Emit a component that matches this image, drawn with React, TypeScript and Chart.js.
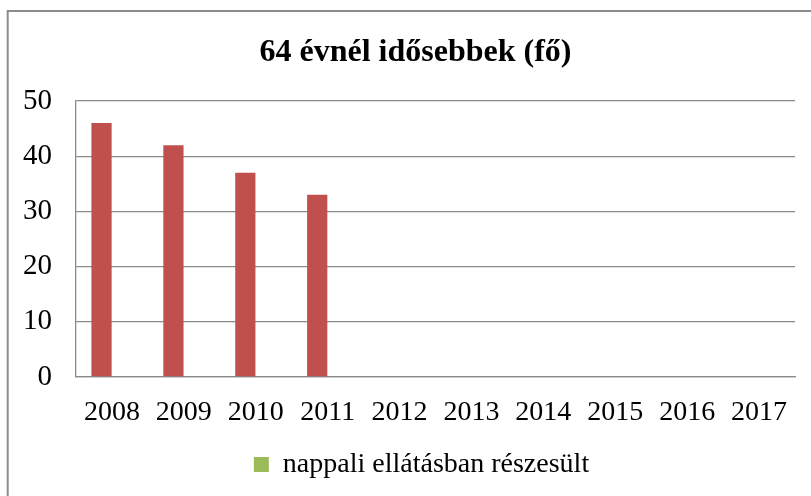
import React, { useEffect, useRef } from "react";
import { Chart, registerables } from "chart.js";

Chart.register(...registerables);

const categories = ["2008", "2009", "2010", "2011", "2012", "2013", "2014", "2015", "2016", "2017"];
const redValues: (number | null)[] = [46, 42, 37, 33, null, null, null, null, null, null];
const greenValues: (number | null)[] = [null, null, null, null, null, null, null, null, null, null];
const titleText = "64 évnél idősebbek (fő)";
const legendLabel = "nappali ellátásban részesült";
const yMin = 0;
const yMax = 50;
const yStep = 10;

const FONT = "'Liberation Serif', 'Times New Roman', serif";
const GRID = "#8a8a8a";

const borderPlugin = {
  id: "outerBorder",
  afterLayout(chart: any) {
    if (chart.titleBlock) {
      chart.titleBlock.left += 8;
      chart.titleBlock.right += 8;
    }
    if (chart.legend) {
      chart.legend.left += 14;
      chart.legend.right += 14;
    }
  },
  beforeDraw(chart: any) {
    const ctx = chart.ctx;
    ctx.save();
    ctx.fillStyle = "#ffffff";
    ctx.fillRect(0, 0, chart.width, chart.height);
    ctx.strokeStyle = "#8c8c8c";
    ctx.lineWidth = 2;
    ctx.strokeRect(7.7, 11, chart.width + 50, chart.height + 50);
    ctx.restore();
  },
};

export default function App() {
  const ref = useRef<HTMLCanvasElement | null>(null);
  useEffect(() => {
    if (!ref.current) return;
    const chart = new Chart(ref.current, {
      type: "bar",
      data: {
        labels: categories,
        datasets: [
          {
            label: "",
            data: redValues,
            backgroundColor: "#C0504D",
            categoryPercentage: 0.58,
            barPercentage: 0.97,
          },
          {
            label: legendLabel,
            data: greenValues,
            backgroundColor: "#9BBB59",
            categoryPercentage: 0.58,
            barPercentage: 0.97,
          },
        ],
      },
      options: {
        animation: false,
        responsive: true,
        maintainAspectRatio: false,
        layout: { padding: { left: 20, right: 16, top: 0, bottom: 7.5 } },
        plugins: {
          title: {
            display: true,
            text: titleText,
            color: "#000",
            font: { family: FONT, size: 32, weight: "bold" },
            padding: { top: 33.3, bottom: 29.3 },
          },
          legend: {
            display: true,
            position: "bottom",
            labels: {
              filter: (item: any) => item.text !== "",
              boxWidth: 15,
              boxHeight: 15,
              color: "#000",
              font: { family: FONT, size: 28 },
              padding: 16.5,
            },
          },
          tooltip: { enabled: false },
        },
        scales: {
          x: {
            grid: { display: false, drawTicks: false },
            border: { display: true, color: GRID, width: 1.3 },
            ticks: { color: "#000", font: { family: FONT, size: 28 }, padding: 19, maxRotation: 0, autoSkip: false },
            afterFit: (scale: any) => {
              scale.height = 57;
            },
          },
          y: {
            min: yMin,
            max: yMax,
            afterFit: (scale: any) => {
              scale.width = 56;
            },
            grid: { color: GRID, lineWidth: 1.3, drawTicks: false },
            border: { display: true, color: GRID, width: 1.3 },
            ticks: { stepSize: yStep, color: "#000", font: { family: FONT, size: 29 }, padding: 24 },
          },
        },
      },
      plugins: [borderPlugin],
    });
    return () => chart.destroy();
  }, []);
  return (
    <div style={{ position: "fixed", left: 0, top: 0, width: 811, height: 496, background: "#fff" }}>
      <canvas ref={ref} />
    </div>
  );
}
